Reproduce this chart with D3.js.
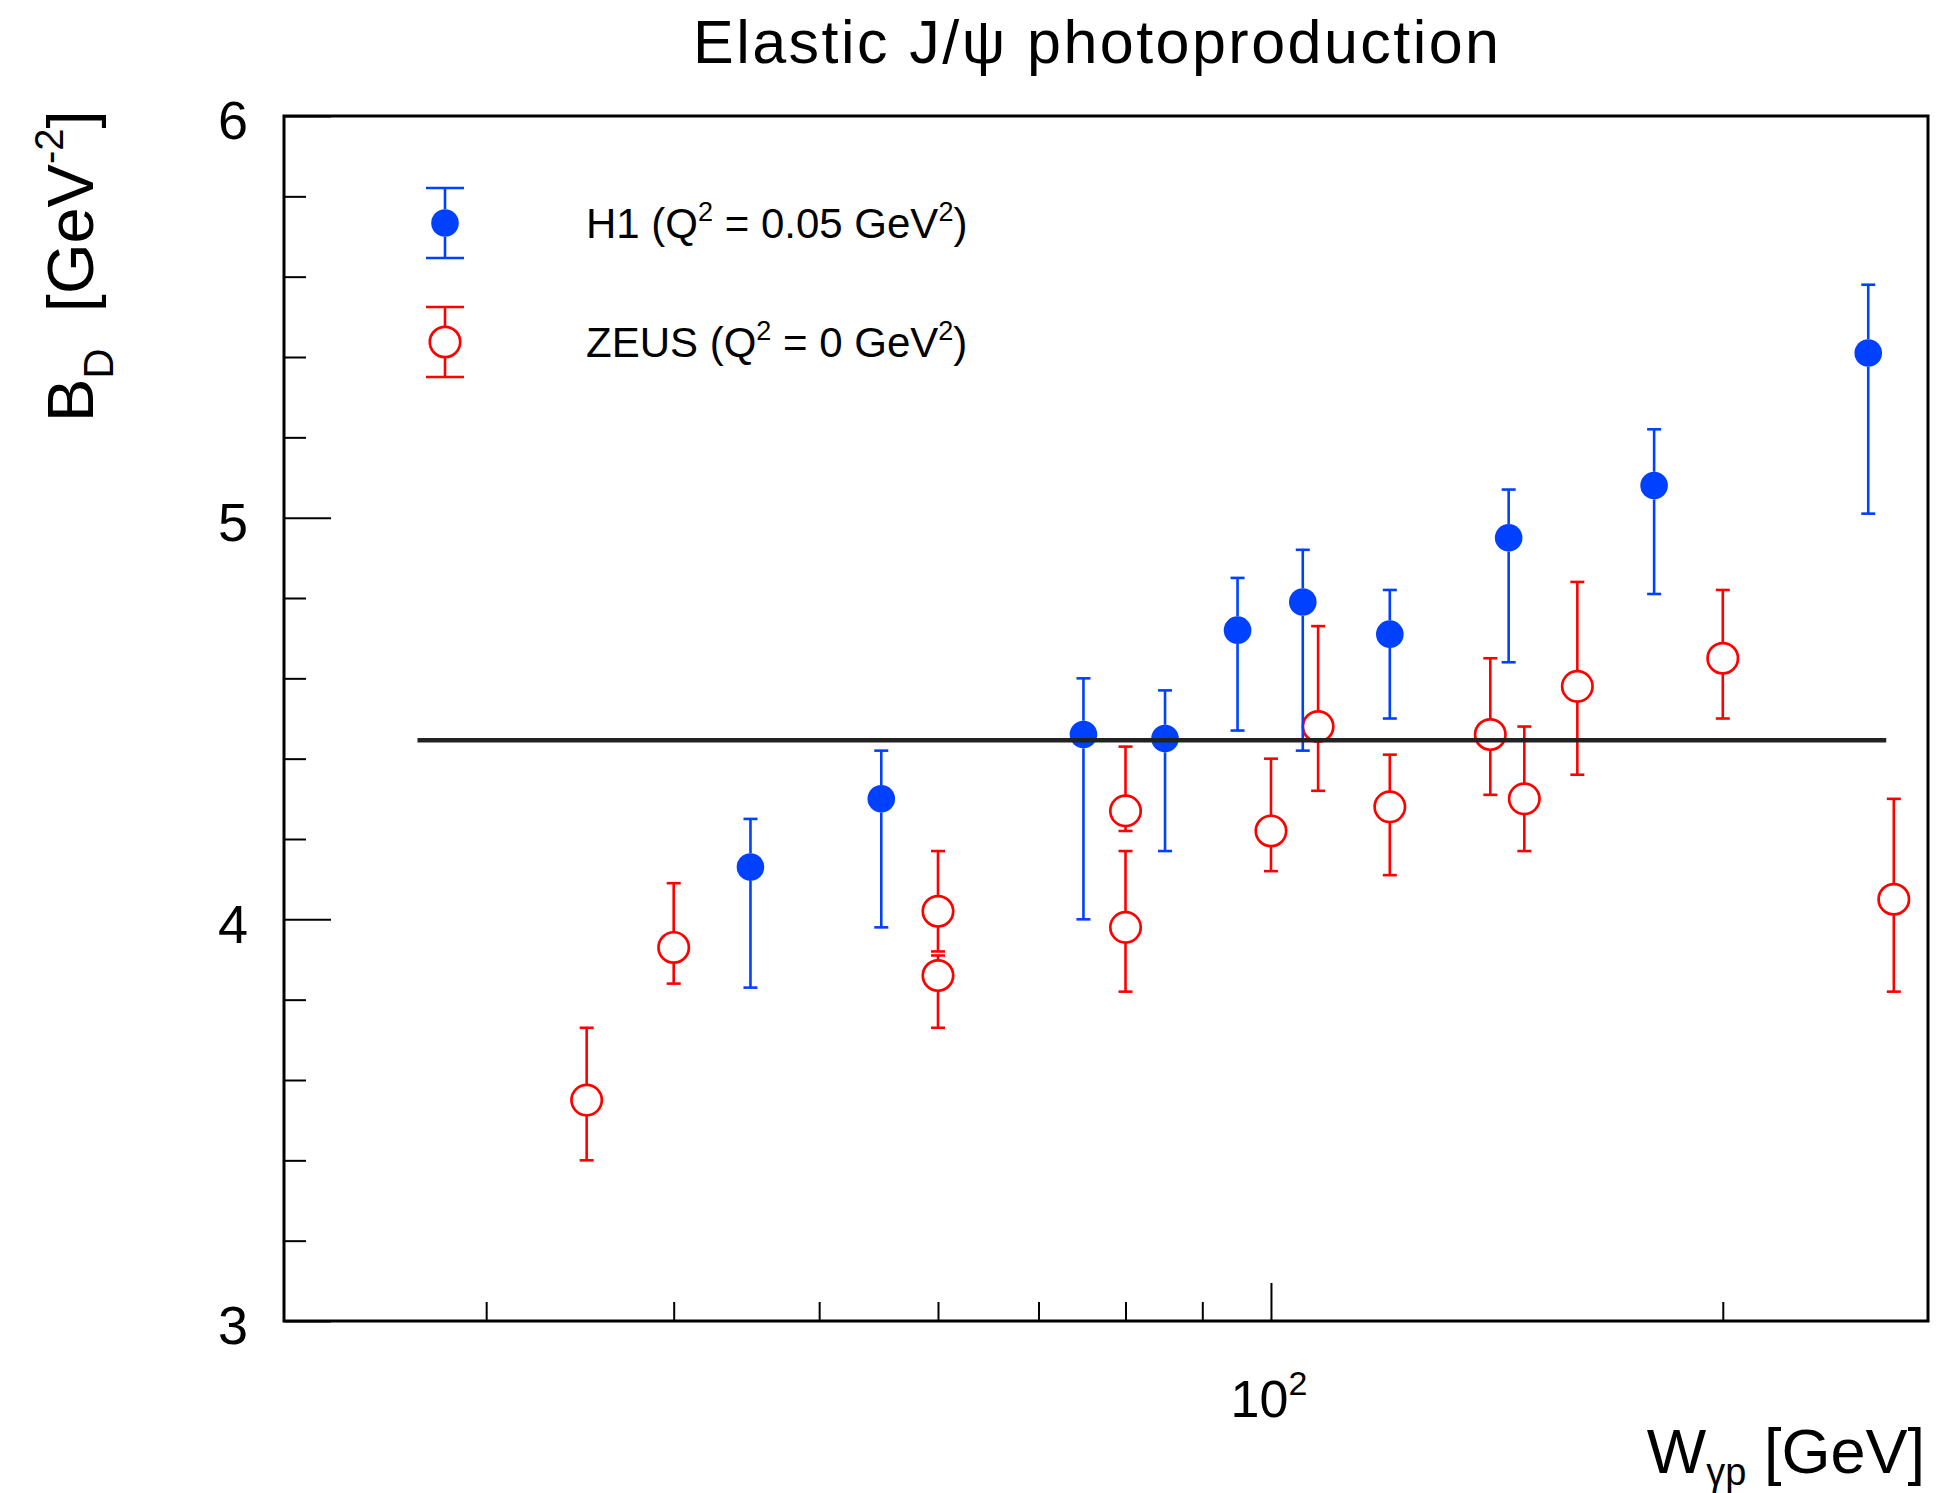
<!DOCTYPE html>
<html>
<head>
<meta charset="utf-8">
<script src="https://cdn.jsdelivr.net/npm/d3@7"></script>
<style>
body { margin: 0; background: #fff; }
svg { display: block; font-family: "Liberation Sans", Arial, Helvetica, sans-serif; }
</style>
</head>
<body>
<svg id="chart" width="1937" height="1493"></svg>
<script>
// H1 points (W, B_D, upper and lower end of the error bar)
var h1W  = [45, 55, 75, 85, 95, 105, 120, 144, 180, 250];
var h1B  = [4.13, 4.30, 4.46, 4.45, 4.72, 4.79, 4.71, 4.95, 5.08, 5.41];
var h1Up = [4.25, 4.42, 4.60, 4.57, 4.85, 4.92, 4.82, 5.07, 5.22, 5.58];
var h1Lo = [3.83, 3.98, 4.00, 4.17, 4.47, 4.42, 4.50, 4.64, 4.81, 5.01];

// ZEUS points
var zeusW  = [35, 40, 60, 60, 80, 80, 100, 107.5, 120, 140, 147.5, 160, 200, 260];
var zeusB  = [3.55, 3.93, 4.02, 3.86, 4.27, 3.98, 4.22, 4.48, 4.28, 4.46, 4.30, 4.58, 4.65, 4.05];
var zeusUp = [3.73, 4.09, 4.17, 3.91, 4.43, 4.17, 4.40, 4.73, 4.41, 4.65, 4.48, 4.84, 4.82, 4.30];
var zeusLo = [3.40, 3.84, 3.92, 3.73, 4.22, 3.82, 4.12, 4.32, 4.11, 4.31, 4.17, 4.36, 4.50, 3.82];

// constant fit
var fitW = [27, 257];
var fitB = [4.446, 4.446];

// axis ticks
var xMajor = [100];
var xMinor = [30, 40, 50, 60, 70, 80, 90, 200];
var yMajor = [3, 4, 5, 6];
var yMinor = [3.2, 3.4, 3.6, 3.8, 4.2, 4.4, 4.6, 4.8, 5.2, 5.4, 5.6, 5.8];

var blue = "#0040ff", red = "#ff0000";

var svg = d3.select("#chart"),
    x = d3.scaleLog().domain([22, 274]).range([284, 1928]),
    y = d3.scaleLinear().domain([3, 6]).range([1321, 116]);

// title
svg.append("text")
   .attr("x", 1096).attr("y", 63)
   .attr("text-anchor", "middle")
   .attr("font-size", 61)
   .attr("textLength", 806)
   .attr("lengthAdjust", "spacing")
   .text("Elastic J/\u03c8 photoproduction");

// axes
function styleAxis(g){
    g.select(".domain").remove();
    g.selectAll(".tick line").attr("stroke", "#000").attr("stroke-width", 2);
}

svg.append("g")
   .attr("transform", "translate(0,1321)")
   .call(d3.axisBottom(x).tickValues(xMinor).tickSize(-19).tickFormat(""))
   .call(styleAxis);
svg.append("g")
   .attr("transform", "translate(0,1321)")
   .call(d3.axisBottom(x).tickValues(xMajor).tickSize(-38).tickFormat(""))
   .call(styleAxis);

svg.append("g")
   .attr("transform", "translate(284,0)")
   .call(d3.axisLeft(y).tickValues(yMinor).tickSize(-22).tickFormat(""))
   .call(styleAxis);
var yg = svg.append("g")
   .attr("transform", "translate(284,0)")
   .call(d3.axisLeft(y).tickValues(yMajor).tickSize(-47).tickPadding(36).tickFormat(d3.format("d")))
   .call(styleAxis);
yg.selectAll(".tick text")
  .attr("font-family", "Liberation Sans, Arial, sans-serif")
  .attr("font-size", 54)
  .attr("fill", "#000")
  .attr("dy", "0.42em");

// 10^2 label under the major x tick
var xl = svg.selectAll(".xlab").data(xMajor).enter().append("text")
   .attr("class", "xlab")
   .attr("x", function(d){ return x(d) - 2; })
   .attr("y", 1417)
   .attr("text-anchor", "middle")
   .attr("font-size", 52);
xl.append("tspan").text("10");
xl.append("tspan").attr("font-size", 34).attr("dy", -22).text("2");

// frame
svg.append("rect")
   .attr("x", 284).attr("y", 116)
   .attr("width", 1644).attr("height", 1205)
   .attr("fill", "none").attr("stroke", "#000").attr("stroke-width", 3);

// axis titles
var xt = svg.append("text")
   .attr("x", 1925).attr("y", 1473)
   .attr("text-anchor", "end")
   .attr("font-size", 63);
xt.append("tspan").text("W");
xt.append("tspan").attr("font-size", 38).attr("dy", 12).text("\u03b3p");
xt.append("tspan").attr("dy", -12).text(" [GeV]");

var yt = svg.append("text")
   .attr("transform", "translate(93,422) rotate(-90)")
   .attr("font-size", 65)
   .attr("xml:space", "preserve");
yt.append("tspan").text("B");
yt.append("tspan").attr("font-size", 42).attr("dy", 20).text("D");
yt.append("tspan").attr("dy", -20).text("  [GeV");
yt.append("tspan").attr("font-size", 40).attr("dy", -30).text("-2");
yt.append("tspan").attr("dy", 30).text("]");

// data with error bars
function drawSeries(W, B, up, lo, color, r, filled){
    var pts = W.map(function(w, i){ return {w: w, b: B[i], up: up[i], lo: lo[i]}; });
    var g = svg.append("g")
               .attr("stroke", color)
               .attr("stroke-width", 2.6);

    g.selectAll(".bu").data(pts).enter().append("line")
     .attr("x1", function(d){ return x(d.w); })
     .attr("x2", function(d){ return x(d.w); })
     .attr("y1", function(d){ return y(d.up); })
     .attr("y2", function(d){ return Math.max(y(d.up), y(d.b) - r); });
    g.selectAll(".bl").data(pts).enter().append("line")
     .attr("x1", function(d){ return x(d.w); })
     .attr("x2", function(d){ return x(d.w); })
     .attr("y1", function(d){ return Math.min(y(d.lo), y(d.b) + r); })
     .attr("y2", function(d){ return y(d.lo); });

    ["up", "lo"].forEach(function(k){
        g.selectAll(".c" + k).data(pts).enter().append("line")
         .attr("x1", function(d){ return x(d.w) - 7; })
         .attr("x2", function(d){ return x(d.w) + 7; })
         .attr("y1", function(d){ return y(d[k]); })
         .attr("y2", function(d){ return y(d[k]); });
    });

    g.selectAll("circle").data(pts).enter().append("circle")
     .attr("cx", function(d){ return x(d.w); })
     .attr("cy", function(d){ return y(d.b); })
     .attr("r", r)
     .attr("fill", filled ? color : "none")
     .attr("stroke", filled ? "none" : color)
     .attr("stroke-width", 2.7);
}

drawSeries(zeusW, zeusB, zeusUp, zeusLo, red, 15.2, false);
drawSeries(h1W, h1B, h1Up, h1Lo, blue, 13.8, true);

// fit line
svg.append("path")
   .datum(fitW.map(function(w, i){ return [w, fitB[i]]; }))
   .attr("fill", "none")
   .attr("stroke", "#222")
   .attr("stroke-width", 4.5)
   .attr("d", d3.line()
        .x(function(d){ return x(d[0]); })
        .y(function(d){ return y(d[1]); }));

// legend
var legend = [
    {name: "H1 (Q", q: "0.05", color: blue, r: 13.8, filled: true},
    {name: "ZEUS (Q", q: "0", color: red, r: 15.2, filled: false}
];
var lg = svg.selectAll(".leg").data(legend).enter().append("g")
   .attr("class", "leg")
   .attr("transform", function(d, i){ return "translate(445," + (223 + i * 119) + ")"; });

lg.append("line").attr("x1", 0).attr("x2", 0).attr("y1", -35)
  .attr("y2", function(d){ return -d.r; })
  .attr("stroke", function(d){ return d.color; }).attr("stroke-width", 2.6);
lg.append("line").attr("x1", 0).attr("x2", 0).attr("y1", 35)
  .attr("y2", function(d){ return d.r; })
  .attr("stroke", function(d){ return d.color; }).attr("stroke-width", 2.6);
[-35, 35].forEach(function(dy){
    lg.append("line").attr("x1", -19).attr("x2", 19).attr("y1", dy).attr("y2", dy)
      .attr("stroke", function(d){ return d.color; }).attr("stroke-width", 2.6);
});
lg.append("circle").attr("r", function(d){ return d.r; })
  .attr("fill", function(d){ return d.filled ? d.color : "none"; })
  .attr("stroke", function(d){ return d.filled ? "none" : d.color; })
  .attr("stroke-width", 2.7);

var lt = lg.append("text")
  .attr("x", 141).attr("y", 15)
  .attr("font-size", 42)
  .attr("xml:space", "preserve");
lt.append("tspan").text(function(d){ return d.name; });
lt.append("tspan").attr("font-size", 27).attr("dy", -17).text("2");
lt.append("tspan").attr("dy", 17).text(function(d){ return " = " + d.q + " GeV"; });
lt.append("tspan").attr("font-size", 27).attr("dy", -17).text("2");
lt.append("tspan").attr("dy", 17).text(")");
</script>
</body>
</html>
